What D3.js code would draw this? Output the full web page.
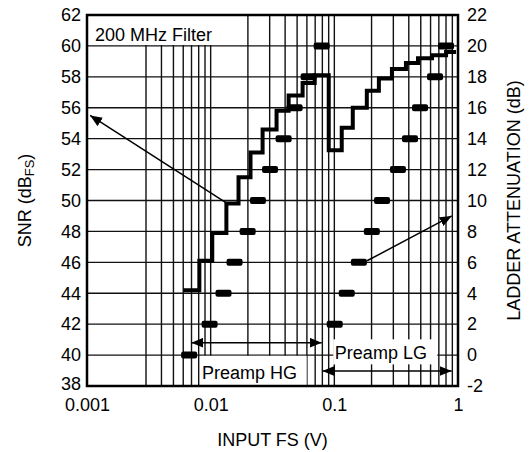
<!DOCTYPE html>
<html>
<head>
<meta charset="utf-8">
<script src="https://cdn.jsdelivr.net/npm/d3@7"></script>
<style>
  html, body { margin: 0; padding: 0; background: #fff; }
  svg { display: block; font-family: "Liberation Sans", Arial, Helvetica, sans-serif; }
</style>
</head>
<body>
<svg id="chart" width="530" height="452"></svg>
<script>
// ---------------- data ----------------
// SNR step curve (x = input FS in V, value = SNR in dBFS); each level holds until the next x
const snrInput = [0.0060, 0.0081, 0.0103, 0.0134, 0.0168, 0.0210, 0.0263, 0.0341, 0.0427, 0.0554, 0.0694,
                  0.0901, 0.1148, 0.1410, 0.1831, 0.2292, 0.2922, 0.3794, 0.4748, 0.6165, 0.8008, 0.965];
const snrValues = [44.2, 46.1, 47.9, 49.8, 51.5, 53.1, 54.6, 55.8, 56.8, 57.6, 58.1,
                   53.25, 54.7, 56.0, 57.1, 57.9, 58.5, 58.9, 59.2, 59.4, 59.6, 59.6];
// Ladder attenuation settings, preamp high gain
const hgInput = [0.0067, 0.0098, 0.0127, 0.0156, 0.0199, 0.0241, 0.0302, 0.0389, 0.0477, 0.0620, 0.0790];
const hgAtten = [0, 2, 4, 6, 8, 10, 12, 14, 16, 18, 20];
// Ladder attenuation settings, preamp low gain
const lgInput = [0.1007, 0.126, 0.158, 0.201, 0.243, 0.327, 0.409, 0.493, 0.652, 0.800];
const lgAtten = [2, 4, 6, 8, 10, 12, 14, 16, 18, 20];
// axes
const xTickLabels = [0.001, 0.01, 0.1, 1];
const xGridValues = [0.003, 0.004, 0.005, 0.006, 0.007, 0.008, 0.009,
                     0.01, 0.02, 0.03, 0.04, 0.05, 0.06, 0.07, 0.08, 0.09,
                     0.1, 0.2, 0.3, 0.4, 0.5, 0.6, 0.7, 0.8, 0.9];
const snrTicks = [38, 40, 42, 44, 46, 48, 50, 52, 54, 56, 58, 60, 62];
const attenTicks = [-2, 0, 2, 4, 6, 8, 10, 12, 14, 16, 18, 20, 22];
// annotation arrows [x1, y1, x2, y2]
const snrArrow = [0.01367, 49.8, 0.00106, 55.5];     // SNR axis units
const attenArrow = [0.184, 6.1, 0.89, 9.0];          // attenuation axis units
const hgRange = [0.00698, 0.0790, 40.8];              // double arrow, SNR units
const lgRange = [0.0804, 0.889, 38.97];

// ---------------- layout ----------------
const L = 87, R = 458, T = 15, B = 386;
const FONT = 18;
const svg = d3.select("#chart");
const x = d3.scaleLog().domain([0.001, 1]).range([L, R]);
const ySnr = d3.scaleLinear().domain([38, 62]).range([B, T]);
const yAtt = d3.scaleLinear().domain([-2, 22]).range([B, T]);

// arrowheads
const defs = svg.append("defs");
defs.append("marker").attr("id", "ah")
  .attr("viewBox", "0 0 12 10").attr("refX", 12).attr("refY", 5)
  .attr("markerWidth", 12).attr("markerHeight", 10)
  .attr("markerUnits", "userSpaceOnUse").attr("orient", "auto-start-reverse")
  .append("path").attr("d", "M0,0 L12,5 L0,10 Z").attr("fill", "#000");

// grid
const grid = svg.append("g").attr("stroke", "#111").attr("stroke-width", 1.4);
grid.selectAll("line.v").data(xGridValues).join("line").attr("class", "v")
  .attr("x1", d => x(d)).attr("x2", d => x(d)).attr("y1", T).attr("y2", B);
grid.selectAll("line.h").data(snrTicks.slice(1, -1)).join("line").attr("class", "h")
  .attr("x1", L).attr("x2", R).attr("y1", d => ySnr(d)).attr("y2", d => ySnr(d));

// label boxes (white background covering grid)
const boxes = svg.append("g");
function labelBox(x0, y0, w, h, tx, ty, text) {
  boxes.append("rect").attr("x", x0).attr("y", y0).attr("width", w).attr("height", h).attr("fill", "#fff");
  boxes.append("text").attr("x", tx).attr("y", ty).attr("font-size", FONT).attr("fill", "#000").text(text);
}
labelBox(L + 4, T, 130, 30, L + 8, T + 26, "200 MHz Filter");
labelBox(x(0.0083), ySnr(39.95), 106, B - ySnr(39.95), x(0.0085), B - 7, "Preamp HG");
labelBox(x(0.098), ySnr(39.4) - 25, 104, 25, x(0.101), ySnr(39.4) - 5, "Preamp LG");

// SNR step line
const stepData = snrInput.map((d, i) => [d, snrValues[i]]);
svg.append("path").datum(stepData)
  .attr("fill", "none").attr("stroke", "#000").attr("stroke-width", 4).attr("stroke-linejoin", "miter")
  .attr("d", d3.line().x(d => x(d[0])).y(d => ySnr(d[1])).curve(d3.curveStepAfter));

// attenuation markers
const mw = 16, mh = 7;
const markerData = hgInput.map((d, i) => [d, hgAtten[i]]).concat(lgInput.map((d, i) => [d, lgAtten[i]]));
svg.append("g").selectAll("rect").data(markerData).join("rect")
  .attr("x", d => x(d[0]) - mw / 2).attr("y", d => yAtt(d[1]) - mh / 2)
  .attr("width", mw).attr("height", mh).attr("rx", 2).attr("fill", "#000");

// arrows
const arrows = svg.append("g").attr("stroke", "#000").attr("stroke-width", 1.5);
arrows.append("line")
  .attr("x1", x(snrArrow[0])).attr("y1", ySnr(snrArrow[1]))
  .attr("x2", x(snrArrow[2])).attr("y2", ySnr(snrArrow[3])).attr("marker-end", "url(#ah)");
arrows.append("line")
  .attr("x1", x(attenArrow[0])).attr("y1", yAtt(attenArrow[1]))
  .attr("x2", x(attenArrow[2])).attr("y2", yAtt(attenArrow[3])).attr("marker-end", "url(#ah)");
[hgRange, lgRange].forEach(r => {
  arrows.append("line")
    .attr("x1", x(r[0])).attr("x2", x(r[1])).attr("y1", ySnr(r[2])).attr("y2", ySnr(r[2]))
    .attr("marker-start", "url(#ah)").attr("marker-end", "url(#ah)");
});

// frame
svg.append("rect").attr("x", L).attr("y", T).attr("width", R - L).attr("height", B - T)
  .attr("fill", "none").attr("stroke", "#000").attr("stroke-width", 2.5);

// axes
const fmtX = d => (d === 1 ? "1" : String(d));
const ax = svg.append("g").attr("transform", `translate(0,${B})`)
  .call(d3.axisBottom(x).tickValues(xTickLabels).tickFormat(fmtX).tickSize(0).tickPadding(12));
const al = svg.append("g").attr("transform", `translate(${L},0)`)
  .call(d3.axisLeft(ySnr).tickValues(snrTicks).tickFormat(d3.format("d")).tickSize(0).tickPadding(6));
const ar = svg.append("g").attr("transform", `translate(${R},0)`)
  .call(d3.axisRight(yAtt).tickValues(attenTicks).tickFormat(d => d < 0 ? "-" + Math.abs(d) : String(d)).tickSize(0).tickPadding(9));
[ax, al, ar].forEach(g => {
  g.select(".domain").remove();
  g.selectAll("text").attr("font-size", FONT).attr("fill", "#000")
    .attr("font-family", "Liberation Sans, Arial, sans-serif");
});
// keep the lowest SNR label clear of the first input label
al.selectAll(".tick text").filter(d => d === 38).attr("dy", "0.2em");

// axis titles
svg.append("text").attr("x", (L + R) / 2).attr("y", 446).attr("text-anchor", "middle")
  .attr("font-size", FONT).text("INPUT FS (V)");
const lt = svg.append("text").attr("transform", `translate(31,${(T + B) / 2}) rotate(-90)`)
  .attr("text-anchor", "middle").attr("font-size", FONT);
lt.append("tspan").text("SNR (dB");
lt.append("tspan").attr("font-size", 13).attr("dy", 3).text("FS");
lt.append("tspan").attr("dy", -3).text(")");
svg.append("text").attr("transform", `translate(520,${(T + B) / 2}) rotate(-90)`)
  .attr("text-anchor", "middle").attr("font-size", FONT).text("LADDER ATTENUATION (dB)");
</script>
</body>
</html>
